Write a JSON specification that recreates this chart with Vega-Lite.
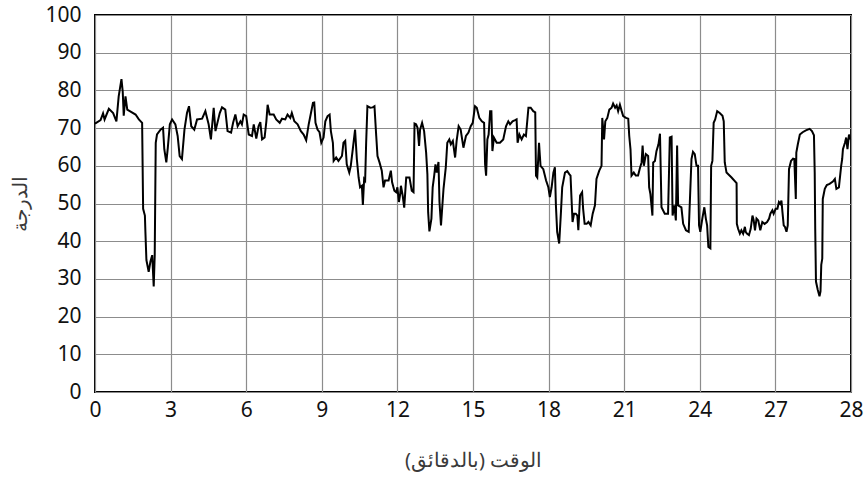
{
  "$schema": "https://vega.github.io/schema/vega-lite/v6.json",
  "width": 756,
  "height": 377,
  "autosize": {"type": "none"},
  "padding": {"left": 95, "top": 15, "right": 14, "bottom": 87},
  "background": "white",
  "config": {
    "view": {"stroke": "#000", "strokeWidth": 2},
    "font": "Noto Sans",
    "axis": {
      "grid": true, "gridColor": "#8c8c8c", "gridWidth": 1.2,
      "domain": false, "ticks": false,
      "labelFont": "Noto Sans", "labelFontSize": 21, "labelColor": "#111",
      "titleFont": "Noto Sans", "titleFontSize": 20, "titleColor": "#3a3a3a", "titleFontWeight": "normal"
    }
  },
  "data": {"values": [
    {"t":0.00,"v":71.2},{"t":0.22,"v":72.1},{"t":0.32,"v":73.9},{"t":0.38,"v":72.3},{"t":0.55,"v":75.1},{"t":0.72,"v":74.0},{"t":0.85,"v":71.8},{"t":0.94,"v":78.4},{"t":1.05,"v":83.0},{"t":1.10,"v":79.7},{"t":1.14,"v":73.3},{"t":1.21,"v":78.4},{"t":1.28,"v":74.9},{"t":1.38,"v":74.5},{"t":1.61,"v":73.6},{"t":1.74,"v":72.3},{"t":1.87,"v":71.4},{"t":1.91,"v":48.6},{"t":1.98,"v":46.8},{"t":2.00,"v":42.5},{"t":2.04,"v":35.0},{"t":2.13,"v":31.9},{"t":2.20,"v":34.6},{"t":2.27,"v":36.3},{"t":2.33,"v":28.0},{"t":2.37,"v":36.3},{"t":2.41,"v":66.1},{"t":2.46,"v":68.3},{"t":2.60,"v":69.6},{"t":2.70,"v":70.1},{"t":2.75,"v":64.4},{"t":2.83,"v":60.9},{"t":2.89,"v":64.8},{"t":2.97,"v":71.0},{"t":3.06,"v":72.3},{"t":3.19,"v":71.0},{"t":3.28,"v":67.9},{"t":3.36,"v":62.6},{"t":3.45,"v":61.8},{"t":3.55,"v":69.6},{"t":3.65,"v":74.0},{"t":3.73,"v":75.8},{"t":3.82,"v":70.5},{"t":3.94,"v":69.6},{"t":4.05,"v":72.3},{"t":4.25,"v":72.5},{"t":4.38,"v":74.5},{"t":4.51,"v":71.0},{"t":4.60,"v":67.0},{"t":4.71,"v":75.4},{"t":4.78,"v":69.2},
    {"t":4.95,"v":74.0},{"t":5.04,"v":75.5},{"t":5.17,"v":74.9},{"t":5.26,"v":69.2},{"t":5.40,"v":68.8},{"t":5.48,"v":71.4},{"t":5.57,"v":73.6},{"t":5.66,"v":70.5},{"t":5.77,"v":71.8},{"t":5.83,"v":71.0},{"t":5.90,"v":73.6},{"t":6.00,"v":73.2},{"t":6.10,"v":68.3},{"t":6.23,"v":67.9},{"t":6.30,"v":71.0},{"t":6.40,"v":67.2},{"t":6.49,"v":70.5},{"t":6.56,"v":71.6},{"t":6.63,"v":67.0},{"t":6.73,"v":67.5},{"t":6.80,"v":71.8},{"t":6.85,"v":76.2},{"t":6.93,"v":73.6},{"t":7.09,"v":73.6},{"t":7.19,"v":72.3},{"t":7.33,"v":71.4},{"t":7.42,"v":72.5},{"t":7.55,"v":72.3},{"t":7.64,"v":73.6},{"t":7.75,"v":72.7},{"t":7.81,"v":74.0},{"t":7.91,"v":71.8},{"t":8.04,"v":71.0},{"t":8.17,"v":69.2},{"t":8.28,"v":68.3},{"t":8.38,"v":66.8},{"t":8.48,"v":71.0},{"t":8.57,"v":74.0},{"t":8.65,"v":76.7},{"t":8.70,"v":76.8},{"t":8.75,"v":71.4},{"t":8.83,"v":69.6},{"t":8.91,"v":68.9},{"t":8.98,"v":66.1},{"t":9.07,"v":67.5},{"t":9.14,"v":71.8},{"t":9.23,"v":73.2},{"t":9.31,"v":73.6},{"t":9.36,"v":69.2},{"t":9.44,"v":66.1},{"t":9.47,"v":61.3},{"t":9.57,"v":62.2},{"t":9.66,"v":61.3},
    {"t":9.80,"v":62.6},{"t":9.86,"v":66.1},{"t":9.93,"v":66.6},{"t":9.99,"v":60.4},{"t":10.09,"v":58.2},{"t":10.15,"v":60.0},{"t":10.23,"v":64.4},{"t":10.32,"v":69.6},{"t":10.39,"v":61.8},{"t":10.46,"v":56.9},{"t":10.52,"v":54.3},{"t":10.59,"v":54.7},{"t":10.63,"v":49.6},{"t":10.68,"v":56.5},{"t":10.72,"v":56.1},{"t":10.76,"v":66.1},{"t":10.81,"v":75.8},{"t":10.92,"v":75.4},{"t":11.02,"v":75.5},{"t":11.09,"v":75.8},{"t":11.16,"v":67.9},{"t":11.21,"v":62.6},{"t":11.29,"v":60.9},{"t":11.38,"v":58.7},{"t":11.45,"v":54.3},{"t":11.51,"v":56.1},{"t":11.65,"v":56.1},{"t":11.74,"v":58.7},{"t":11.79,"v":55.6},{"t":11.88,"v":53.4},{"t":11.95,"v":53.0},{"t":12.00,"v":54.3},{"t":12.06,"v":50.4},{"t":12.11,"v":52.5},{"t":12.14,"v":54.7},{"t":12.21,"v":52.1},{"t":12.27,"v":48.9},{"t":12.35,"v":56.9},{"t":12.48,"v":56.9},{"t":12.57,"v":53.4},{"t":12.64,"v":53.0},{"t":12.68,"v":71.2},{"t":12.74,"v":71.0},{"t":12.80,"v":70.1},{"t":12.86,"v":65.3},{"t":12.90,"v":69.6},{"t":12.98,"v":71.4},{"t":13.06,"v":69.2},{"t":13.14,"v":63.5},{"t":13.19,"v":57.8},{"t":13.22,"v":47.7},{"t":13.27,"v":42.6},{"t":13.35,"v":46.0},{"t":13.40,"v":54.3},{"t":13.46,"v":57.4},{"t":13.51,"v":60.4},{"t":13.56,"v":58.2},{"t":13.63,"v":61.0},{"t":13.67,"v":50.4},{"t":13.73,"v":44.2},{"t":13.83,"v":53.9},{"t":13.92,"v":59.6},{"t":13.98,"v":66.1},{"t":14.06,"v":67.0},{"t":14.12,"v":65.7},{"t":14.20,"v":66.6},{"t":14.29,"v":62.2},{"t":14.35,"v":66.6},{"t":14.43,"v":70.5},
    {"t":14.51,"v":69.6},{"t":14.62,"v":64.8},{"t":14.72,"v":67.9},{"t":14.82,"v":68.8},{"t":14.91,"v":70.5},{"t":14.99,"v":71.4},{"t":15.08,"v":75.8},{"t":15.15,"v":75.4},{"t":15.25,"v":72.7},{"t":15.35,"v":71.8},{"t":15.44,"v":71.4},{"t":15.48,"v":60.4},{"t":15.52,"v":57.4},{"t":15.57,"v":67.0},{"t":15.62,"v":68.3},{"t":15.68,"v":74.5},{"t":15.73,"v":74.5},{"t":15.77,"v":63.9},{"t":15.83,"v":67.5},{"t":15.94,"v":66.1},{"t":16.07,"v":66.1},{"t":16.20,"v":67.0},{"t":16.31,"v":70.5},{"t":16.40,"v":71.8},{"t":16.47,"v":71.0},{"t":16.57,"v":71.8},{"t":16.67,"v":72.1},{"t":16.73,"v":72.3},{"t":16.77,"v":66.1},{"t":16.84,"v":68.3},{"t":16.93,"v":67.0},{"t":17.02,"v":68.3},{"t":17.10,"v":67.9},{"t":17.20,"v":75.4},{"t":17.29,"v":75.4},{"t":17.39,"v":74.5},{"t":17.47,"v":74.2},{"t":17.50,"v":57.4},{"t":17.55,"v":56.9},{"t":17.62,"v":66.1},{"t":17.68,"v":60.0},{"t":17.79,"v":59.1},{"t":17.90,"v":56.1},{"t":17.99,"v":54.3},{"t":18.05,"v":51.7},{"t":18.12,"v":54.3},{"t":18.19,"v":58.2},{"t":18.25,"v":59.6},{"t":18.29,"v":49.5},{"t":18.34,"v":42.5},{"t":18.42,"v":39.4},{"t":18.49,"v":47.7},{"t":18.54,"v":54.3},{"t":18.65,"v":58.2},{"t":18.74,"v":58.6},{"t":18.82,"v":57.8},{"t":18.87,"v":57.4},{"t":18.95,"v":45.1},{"t":19.01,"v":47.3},{"t":19.08,"v":47.3},
    {"t":19.14,"v":46.8},{"t":19.18,"v":42.9},{"t":19.25,"v":52.1},{"t":19.33,"v":53.0},{"t":19.37,"v":48.6},{"t":19.43,"v":44.6},{"t":19.51,"v":44.6},{"t":19.58,"v":45.1},{"t":19.67,"v":44.2},{"t":19.75,"v":47.3},{"t":19.84,"v":49.5},{"t":19.90,"v":56.5},{"t":20.01,"v":58.7},{"t":20.10,"v":60.0},{"t":20.13,"v":72.7},{"t":20.20,"v":67.0},{"t":20.25,"v":71.8},{"t":20.33,"v":72.7},{"t":20.41,"v":74.9},{"t":20.50,"v":75.4},{"t":20.56,"v":76.5},{"t":20.64,"v":75.4},{"t":20.70,"v":76.0},{"t":20.76,"v":74.5},{"t":20.83,"v":76.2},{"t":20.90,"v":74.5},{"t":20.96,"v":73.2},{"t":21.07,"v":72.7},{"t":21.16,"v":72.5},{"t":21.20,"v":67.9},{"t":21.25,"v":64.4},{"t":21.29,"v":57.4},{"t":21.38,"v":58.2},{"t":21.46,"v":57.4},{"t":21.55,"v":57.4},{"t":21.62,"v":59.3},{"t":21.69,"v":60.9},{"t":21.73,"v":65.4},{"t":21.78,"v":60.0},{"t":21.86,"v":63.1},{"t":21.95,"v":62.6},{"t":21.99,"v":54.3},{"t":22.04,"v":52.5},{"t":22.12,"v":46.8},{"t":22.15,"v":60.9},{"t":22.22,"v":61.3},{"t":22.28,"v":63.9},{"t":22.36,"v":65.7},{"t":22.42,"v":68.5},{"t":22.48,"v":49.0},{"t":22.61,"v":47.3},{"t":22.74,"v":47.3},{"t":22.81,"v":67.5},{"t":22.88,"v":67.7},{"t":22.92,"v":46.8},{"t":22.99,"v":49.5},{"t":23.05,"v":45.5},{"t":23.10,"v":65.4},{"t":23.14,"v":49.5},{"t":23.27,"v":49.0},{"t":23.34,"v":44.6},{"t":23.45,"v":42.9},{"t":23.56,"v":42.5},
    {"t":23.67,"v":61.8},{"t":23.73,"v":63.7},{"t":23.80,"v":63.1},{"t":23.87,"v":60.0},{"t":23.93,"v":60.0},{"t":23.97,"v":44.2},{"t":24.02,"v":42.5},{"t":24.10,"v":46.0},{"t":24.18,"v":49.0},{"t":24.24,"v":46.0},{"t":24.29,"v":44.2},{"t":24.34,"v":38.5},{"t":24.42,"v":38.1},{"t":24.45,"v":60.0},{"t":24.50,"v":61.3},{"t":24.55,"v":71.4},{"t":24.61,"v":72.3},{"t":24.69,"v":74.5},{"t":24.79,"v":74.0},{"t":24.90,"v":73.3},{"t":24.95,"v":71.8},{"t":24.99,"v":60.9},{"t":25.06,"v":58.2},{"t":25.26,"v":56.9},{"t":25.46,"v":55.4},{"t":25.47,"v":44.6},{"t":25.52,"v":43.3},{"t":25.59,"v":42.0},{"t":25.65,"v":42.9},{"t":25.72,"v":42.0},{"t":25.79,"v":43.8},{"t":25.82,"v":42.5},{"t":25.87,"v":42.0},{"t":25.95,"v":41.6},{"t":26.02,"v":43.3},{"t":26.09,"v":46.8},{"t":26.14,"v":45.5},{"t":26.19,"v":42.9},{"t":26.25,"v":46.0},{"t":26.32,"v":45.5},{"t":26.40,"v":42.9},{"t":26.48,"v":45.1},{"t":26.57,"v":44.6},{"t":26.67,"v":45.1},{"t":26.75,"v":46.0},{"t":26.80,"v":47.3},{"t":26.88,"v":48.2},{"t":26.93,"v":47.3},{"t":27.01,"v":48.6},{"t":27.08,"v":48.6},{"t":27.14,"v":50.4},{"t":27.20,"v":49.9},{"t":27.24,"v":50.8},{"t":27.28,"v":47.7},{"t":27.33,"v":44.2},{"t":27.38,"v":43.8},{"t":27.44,"v":42.5},{"t":27.49,"v":44.2},{"t":27.54,"v":59.1},{"t":27.62,"v":61.3},{"t":27.70,"v":61.9},{"t":27.75,"v":61.8},{"t":27.81,"v":51.2},{"t":27.83,"v":63.5},{"t":27.89,"v":65.7},{"t":27.97,"v":68.3},{"t":28.08,"v":68.9},{"t":28.21,"v":69.4},{"t":28.36,"v":69.8},{"t":28.45,"v":69.2},{"t":28.53,"v":68.1},{"t":28.56,"v":58.2},{"t":28.58,"v":43.3},{"t":28.61,"v":29.3},{"t":28.68,"v":27.1},{"t":28.75,"v":25.4},{"t":28.79,"v":26.7},{"t":28.82,"v":33.7},{"t":28.86,"v":35.4},{"t":28.88,"v":51.2},{"t":28.96,"v":53.9},{"t":29.04,"v":54.9},{"t":29.15,"v":55.2},{"t":29.28,"v":55.8},{"t":29.36,"v":56.5},{"t":29.42,"v":53.9},{"t":29.52,"v":54.3},{"t":29.61,"v":60.0},{"t":29.65,"v":61.8},{"t":29.68,"v":64.4},{"t":29.76,"v":66.1},{"t":29.81,"v":67.5},{"t":29.86,"v":64.4},{"t":29.92,"v":68.3},{"t":29.97,"v":67.0}
  ]},
  "mark": {"type": "line", "color": "#000", "strokeWidth": 2, "interpolate": "linear"},
  "encoding": {
    "x": {
      "field": "t", "type": "quantitative",
      "scale": {"domain": [0, 30], "nice": false, "zero": false},
      "axis": {
        "title": "الوقت (بالدقائق)",
        "values": [0, 3, 6, 9, 12, 15, 18, 21, 24, 27, 30],
        "labelExpr": "datum.value == 30 ? '28' : datum.label",
        "labelPadding": 7, "titlePadding": 30, "labelFlush": false
      }
    },
    "y": {
      "field": "v", "type": "quantitative",
      "scale": {"domain": [0, 100], "nice": false},
      "axis": {
        "title": "الدرجة",
        "values": [0, 10, 20, 30, 40, 50, 60, 70, 80, 90, 100],
        "labelPadding": 14, "titlePadding": 14
      }
    }
  }
}
